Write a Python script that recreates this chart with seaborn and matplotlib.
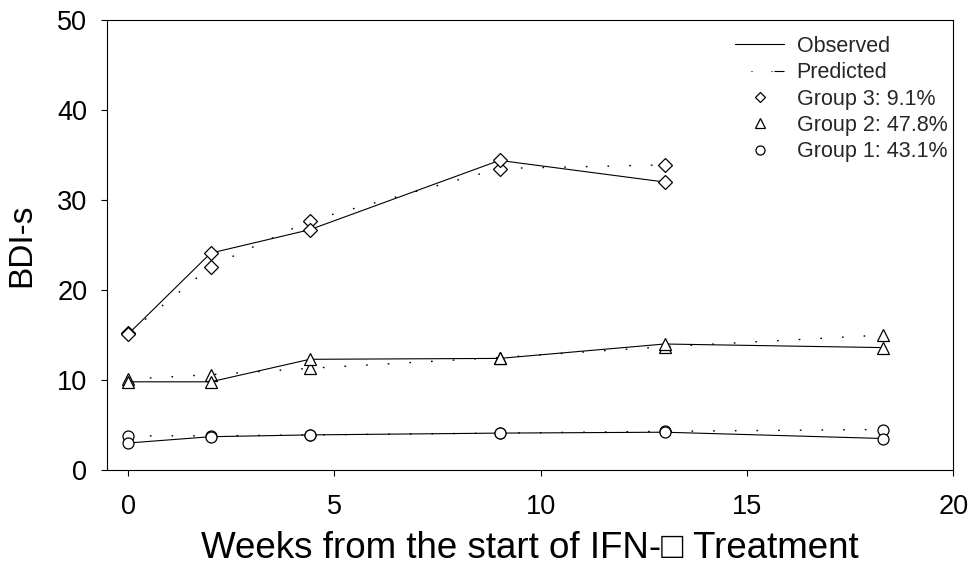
import matplotlib
matplotlib.use("Agg")
import matplotlib.pyplot as plt
from matplotlib.lines import Line2D
import pandas as pd
import seaborn as sns

# Assessment times (weeks) and mean BDI-s scores per trajectory group
weeks = [0, 2, 4.4, 9, 13, 18.3]
weeks_g3 = [0, 2, 4.4, 9, 13]

g1_observed = [3.0, 3.7, 3.9, 4.1, 4.2, 3.5]
g1_predicted = [3.8, 3.8, 3.9, 4.1, 4.3, 4.5]

g2_observed = [9.8, 9.8, 12.3, 12.4, 14.0, 13.6]
g2_predicted = [10.1, 10.6, 11.3, 12.5, 13.7, 15.0]

g3_observed = [15.1, 24.1, 26.7, 34.4, 32.0]
g3_predicted = [15.2, 22.6, 27.7, 33.5, 33.9]

group_labels = ["Group 3: 9.1%", "Group 2: 47.8%", "Group 1: 43.1%"]
x_ticks = [0, 5, 10, 15, 20]
y_ticks = [0, 10, 20, 30, 40, 50]

sns.set_theme(style="white")
plt.rcParams["font.family"] = ["Liberation Sans", "DejaVu Sans"]

fig = plt.figure(figsize=(9.73, 5.75), dpi=100)
ax = fig.add_axes([0.1097, 0.1826, 0.8701, 0.7826])

DOTTED = (0, (1.2, 14.4))
series = [
    (weeks_g3, g3_observed, g3_predicted, "D", 6.8),
    (weeks, g2_observed, g2_predicted, "^", 8.6),
    (weeks, g1_observed, g1_predicted, "o", 7.9),
]

for xs, obs, pred, mk, ms in series:
    df = pd.DataFrame({"week": xs, "observed": obs, "predicted": pred})
    for col, ls, lw in (("predicted", DOTTED, 1.0), ("observed", "-", 0.8)):
        sns.lineplot(data=df, x="week", y=col, ax=ax, estimator=None, sort=False,
                     color="black", linewidth=lw, linestyle=ls, marker=mk,
                     markersize=ms, markerfacecolor="white",
                     markeredgecolor="black", markeredgewidth=0.9)

for line in ax.get_lines():
    line.set_markerfacecolor("white")
    line.set_markeredgecolor("black")

ax.set_xlim(-0.52, 20)
ax.set_ylim(0, 50)
ax.set_xticks(x_ticks)
ax.set_yticks(y_ticks)
ax.set_xticklabels([str(t) for t in x_ticks])
ax.set_yticklabels([str(t) for t in y_ticks])

for side in ("left", "bottom", "top", "right"):
    ax.spines[side].set_visible(True)
    ax.spines[side].set_color("black")
    ax.spines[side].set_linewidth(0.8)

ax.tick_params(axis="both", which="major", length=4, width=0.8, color="black",
               labelsize=19.5, labelcolor="black", direction="out")
ax.tick_params(axis="x", pad=13, bottom=True)
ax.tick_params(axis="y", pad=10, left=True)

ax.set_xlabel("Weeks from the start of IFN-\u25a1 Treatment", fontsize=26.5,
              color="black", labelpad=8)
ax.set_ylabel("BDI-s", fontsize=24, color="black", labelpad=14)
ax.grid(False)

# legend key for the model line: gap, dot, gap, dot, short dash
PRED_KEY = (29.7, (0.9, 17.1, 0.9, 1.8, 9.0, 14.4))
handles = [
    Line2D([], [], color="black", linewidth=0.8),
    Line2D([], [], color="black", linewidth=0.8, linestyle=PRED_KEY),
    Line2D([], [], linestyle="none", marker="D", markersize=5.4,
           markerfacecolor="white", markeredgecolor="black", markeredgewidth=0.9),
    Line2D([], [], linestyle="none", marker="^", markersize=6.5,
           markerfacecolor="white", markeredgecolor="black", markeredgewidth=0.9),
    Line2D([], [], linestyle="none", marker="o", markersize=6.5,
           markerfacecolor="white", markeredgecolor="black", markeredgewidth=0.9),
]
labels = ["Observed", "Predicted"] + group_labels
ax.legend(handles, labels, loc="upper right", bbox_to_anchor=(0.993, 0.965),
          frameon=False, fontsize=15.5, handlelength=2.25, handletextpad=0.6,
          labelspacing=0.25, borderpad=0.0, borderaxespad=0.0)

fig.savefig("out.png", dpi=100, facecolor="white")
